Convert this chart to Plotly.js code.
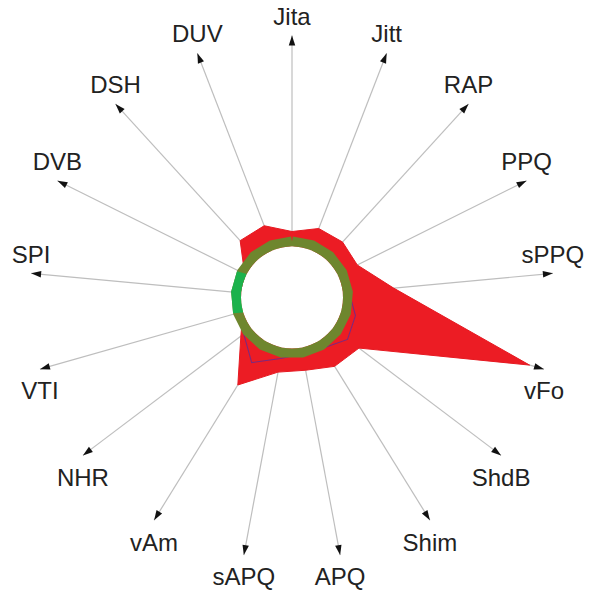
<!DOCTYPE html>
<html>
<head>
<meta charset="utf-8">
<script src="https://cdn.plot.ly/plotly-3.0.1.min.js"></script>
<style>
html,body{margin:0;padding:0;background:#fff;}
#chart{width:596px;height:590px;}
</style>
</head>
<body>
<div id="chart"></div>
<script>
// ---- data ----
const categories = ["Jita","Jitt","RAP","PPQ","sPPQ","vFo","ShdB","Shim","APQ","sAPQ","vAm","NHR","VTI","SPI","DVB","DSH","DUV"];
const redSeries    = [7.1, 10.9, 11.4, 10.4, 24.2, 92.9, 15.6, 14.2, 10.9, 11.8, 24.6, 6.2, 0.0, 0.0, 0.9, 12.3, 12.3];
const purpleSeries = [2.5, 2.5, 2.5, 2.5, 3.0, 7.1, 8.8, 4.0, 3.0, 5.2, 12.1, 4.5, 2.5, 2.5, 2.5, 2.5, 2.5];
const oliveSeries  = [2.4, 2.4, 2.4, 2.4, 2.4, 2.4, 2.4, 2.4, 2.4, 2.4, 2.4, 2.4, 2.4, 2.4, 2.4, 2.4, 2.4];
const greenSeries  = [null, null, null, null, null, null, null, null, null, null, null, null, 2.4, 2.4, 2.4, null, null];

// ---- layout helpers ----
const RMAX = 100;
const N = categories.length;
const closeLoop = a => a.concat([a[0]]);
const thetaLoop = closeLoop(categories);
const angles = categories.map((_, i) => i * 360 / N);
const isTop = angles.map(a => (a < 90 || a > 270));

const traces = [
  { type: 'scatterpolar', r: closeLoop(redSeries), theta: thetaLoop, mode: 'lines',
    fill: 'toself', fillcolor: 'rgb(236,28,36)', line: { color: 'rgb(230,26,34)', width: 1 },
    cliponaxis: false, hoverinfo: 'skip' },
  { type: 'scatterpolar', r: closeLoop(categories.map(() => 0)), theta: thetaLoop, mode: 'lines',
    fill: 'toself', fillcolor: '#ffffff', line: { color: '#ffffff', width: 1 },
    cliponaxis: false, hoverinfo: 'skip' },
  { type: 'scatterpolar', r: closeLoop(purpleSeries), theta: thetaLoop, mode: 'lines',
    line: { color: 'rgba(95,45,150,0.8)', width: 1.1 }, cliponaxis: false, hoverinfo: 'skip' },
  { type: 'scatterpolar', r: closeLoop(oliveSeries), theta: thetaLoop, mode: 'lines',
    line: { color: 'rgb(110,134,46)', width: 10 }, cliponaxis: false, hoverinfo: 'skip' },
  { type: 'scatterpolar', r: greenSeries, theta: categories, mode: 'lines', connectgaps: false,
    line: { color: 'rgb(28,178,76)', width: 10 }, cliponaxis: false, hoverinfo: 'skip' },
  { type: 'scatterpolar', r: categories.map(() => RMAX), theta: categories, mode: 'markers',
    marker: { symbol: 'arrow', size: 10.5, angle: angles, color: '#111111', line: { width: 0 } },
    cliponaxis: false, hoverinfo: 'skip' },
  { type: 'scatterpolar', r: categories.map(() => RMAX), theta: categories, mode: 'markers+text',
    text: categories,
    textposition: isTop.map(t => t ? 'top center' : 'bottom center'),
    textfont: { family: 'Liberation Sans, Arial, sans-serif', size: 24, color: '#222222' },
    marker: { size: isTop.map(t => t ? 6 : 18), opacity: 0 },
    cliponaxis: false, hoverinfo: 'skip' }
];

const layout = {
  width: 596, height: 590,
  margin: { l: 0, r: 0, t: 0, b: 0 },
  paper_bgcolor: '#ffffff',
  showlegend: false,
  hovermode: false,
  polar: {
    domain: { x: [30 / 596, 554 / 596], y: [30.5 / 590, 554.5 / 590] },
    hole: 51 / 262,
    bgcolor: '#ffffff',
    radialaxis: { range: [0, RMAX], visible: false, showgrid: false },
    angularaxis: {
      type: 'category', categoryarray: categories,
      rotation: 90, direction: 'clockwise',
      showgrid: true, gridcolor: 'rgb(190,190,190)', gridwidth: 1.2,
      showline: false, showticklabels: false, ticks: ''
    }
  }
};

Plotly.newPlot('chart', traces, layout, { displayModeBar: false, staticPlot: true });
</script>
</body>
</html>
